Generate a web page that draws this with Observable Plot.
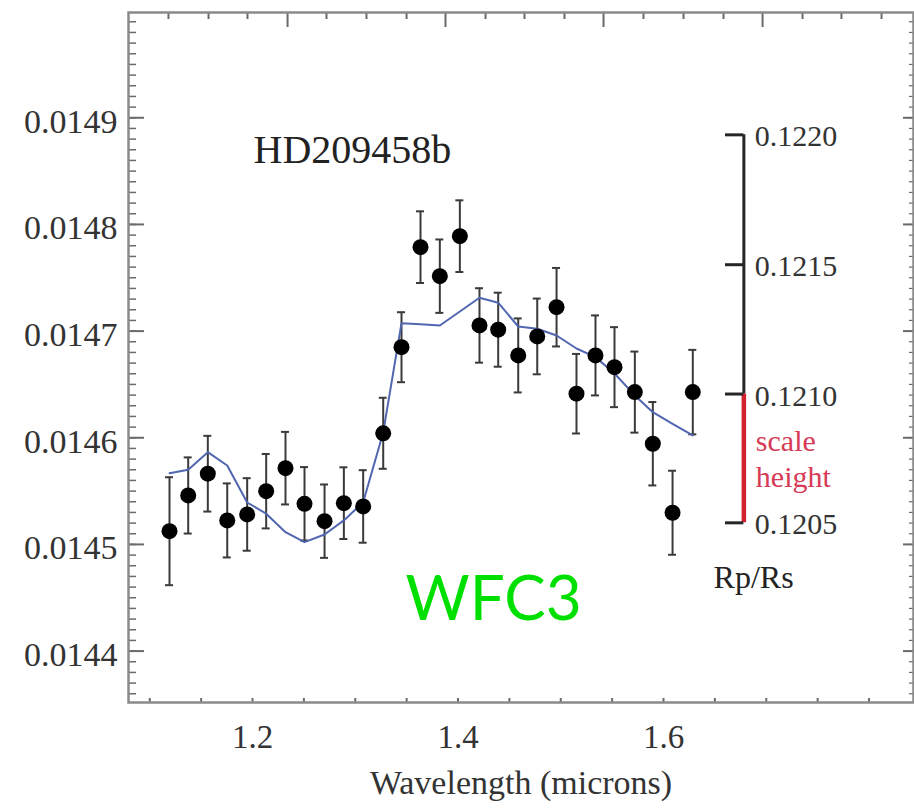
<!DOCTYPE html>
<html>
<head>
<meta charset="utf-8">
<script src="https://cdn.jsdelivr.net/npm/d3@7"></script>
<script src="https://cdn.jsdelivr.net/npm/@observablehq/plot@0.6"></script>
<style>
  html, body { margin: 0; padding: 0; background: #ffffff; }
  #chart svg { display: block; }
</style>
</head>
<body>
<div id="chart"></div>
<script>
// ---- data ----
const wavelength = [1.1192, 1.1374, 1.1565, 1.1754, 1.1948, 1.2133, 1.2321, 1.2506, 1.2701, 1.2889,
                    1.3077, 1.3272, 1.3450, 1.3635, 1.3823, 1.4018, 1.4209, 1.4391, 1.4586, 1.4771,
                    1.4959, 1.5153, 1.5338, 1.5523, 1.5721, 1.5896, 1.6088, 1.6285];
const depth = [0.0145124, 0.0145459, 0.0145663, 0.0145225, 0.0145281, 0.0145499, 0.0145715, 0.0145381, 0.0145218, 0.0145387,
               0.0145356, 0.0146042, 0.0146849, 0.0147787, 0.0147515, 0.0147890, 0.0147053, 0.0147013, 0.0146772, 0.0146950,
               0.0147224, 0.0146413, 0.0146772, 0.0146662, 0.0146428, 0.0145944, 0.0145297, 0.0146428];
const depthErr = [0.0000506, 0.0000357, 0.0000355, 0.0000347, 0.0000340, 0.0000349, 0.0000340, 0.0000344, 0.0000344, 0.0000336,
                  0.0000340, 0.0000333, 0.0000328, 0.0000336, 0.0000344, 0.0000336, 0.0000349, 0.0000347, 0.0000347, 0.0000355,
                  0.0000368, 0.0000373, 0.0000375, 0.0000375, 0.0000380, 0.0000391, 0.0000394, 0.0000396];
const model = [0.0145668, 0.0145700, 0.0145865, 0.0145740, 0.0145393, 0.0145288, 0.0145115, 0.0145021, 0.0145093, 0.0145225,
               0.0145396, 0.0146050, 0.0147074, 0.0147064, 0.0147053, 0.0147184, 0.0147313, 0.0147266, 0.0147043, 0.0147022,
               0.0146959, 0.0146837, 0.0146756, 0.0146603, 0.0146397, 0.0146240, 0.0146131, 0.0146022];

const yTickValues = [0.0144, 0.0145, 0.0146, 0.0147, 0.0148, 0.0149];
const xTickValues = [1.2, 1.4, 1.6];
const topMajorTicks = [1.2341, 1.3878, 1.5416, 1.6964];
const topMinorTicks = [1.1182, 1.1572, 1.1951, 1.2720, 1.3109, 1.3499, 1.4268, 1.4647, 1.5036,
                       1.5805, 1.6195, 1.6584, 1.7353, 1.7732, 1.8122];
const rpValues = [0.1205, 0.1210, 0.1215, 0.1220];
const rpLabels = ["0.1205", "0.1210", "0.1215", "0.1220"];

const titleText = ["HD209458b"];
const instrumentText = ["WFC3"];
const scaleWord = ["scale"];
const heightWord = ["height"];
const rpAxisText = ["Rp/Rs"];
const xLabelText = ["Wavelength (microns)"];

// ---- layout ----
const W = 914, H = 808;
const mTop = 12, mRight = 1, mBottom = 106, mLeft = 128;
const plotW = W - mLeft - mRight;
const plotH = H - mTop - mBottom;
const xDomain = [1.0793, 1.8433];
const yDomain = [0.0143518, 0.0149987];

// annotation anchors (data units)
const titlePos = {x: 1.201, y: 0.0148693};
const instrumentPos = {x: 1.3489, y: 0.0144475};
const barX = 1.6782, barTickX = 1.6603;
const rpTextPos = {x: 1.6487, y: 0.0144690};

const sq = r => r * r;
const barMid = (sq(rpValues[0]) + sq(rpValues[1])) / 2;
const points = wavelength.map((w, i) => ({w, d: depth[i], e: depthErr[i], m: model[i]}));
const yMinor = d3.range(1436, 1500).map(k => k / 100000);
const bottomTicks = d3.range(22, 37).map(k => k / 20);

const frameGray = "#8a8a8a";
const tickGray = "#6a6a6a";
const textGray = "#333333";
const red = "#d2202e";
const pinkRed = "#d63a55";

const chart = Plot.plot({
  width: W, height: H,
  marginTop: mTop, marginRight: mRight, marginBottom: mBottom, marginLeft: mLeft,
  x: {domain: xDomain},
  y: {domain: yDomain},
  style: {fontFamily: "'Liberation Serif', 'DejaVu Serif', serif", background: "#ffffff", color: "#222"},
  marks: [
    // axis tick marks (inward)
    Plot.tickY(yMinor, {y: d => d, insetRight: plotW - 8, stroke: tickGray, strokeWidth: 1.5}),
    Plot.tickY(yTickValues, {y: d => d, insetRight: plotW - 16, stroke: tickGray, strokeWidth: 2}),
    Plot.tickY(yMinor, {y: d => d, insetLeft: plotW - 4, stroke: tickGray, strokeWidth: 1.2}),
    Plot.tickY(yTickValues, {y: d => d, insetLeft: plotW - 10, stroke: tickGray, strokeWidth: 2}),
    Plot.tickX(topMinorTicks, {x: d => d, insetBottom: plotH - 7, stroke: tickGray, strokeWidth: 2}),
    Plot.tickX(topMajorTicks, {x: d => d, insetBottom: plotH - 15, stroke: tickGray, strokeWidth: 2}),
    Plot.tickX(bottomTicks, {x: d => d, insetTop: plotH - 4, stroke: tickGray, strokeWidth: 2}),
    Plot.frame({stroke: frameGray, strokeWidth: 2.5}),
    // tick labels
    Plot.axisY(yTickValues, {tickSize: 0, tickPadding: 11, tickFormat: d3.format(".4f"),
      fontSize: 34, fill: textGray, dy: 4, label: null}),
    Plot.axisX(xTickValues, {tickSize: 0, tickPadding: 22, tickFormat: d3.format(".1f"),
      fontSize: 33, fill: textGray, label: null}),
    Plot.text(xLabelText, {frameAnchor: "bottom", dy: 91, fontSize: 34, fill: textGray}),
    // data
    Plot.ruleX(points, {x: "w", y1: d => d.d - d.e, y2: d => d.d + d.e, stroke: "#3a3a3a", strokeWidth: 2}),
    Plot.ruleY(points, {y: d => d.d + d.e, x1: "w", x2: "w", insetLeft: -4, insetRight: -4, stroke: "#3a3a3a", strokeWidth: 2}),
    Plot.ruleY(points, {y: d => d.d - d.e, x1: "w", x2: "w", insetLeft: -4, insetRight: -4, stroke: "#3a3a3a", strokeWidth: 2}),
    Plot.line(points, {x: "w", y: "m", stroke: "#5166b0", strokeWidth: 2}),
    Plot.dot(points, {x: "w", y: "d", r: 8, fill: "#000000", stroke: null}),
    // Rp/Rs scale bar
    Plot.ruleX([barX], {x: d => d, y1: sq(rpValues[1]), y2: sq(rpValues[3]), stroke: "#262626", strokeWidth: 3}),
    Plot.ruleX([barX], {x: d => d, y1: sq(rpValues[0]), y2: sq(rpValues[1]), stroke: red, strokeWidth: 4.5}),
    Plot.ruleY(rpValues, {y: sq, x1: barTickX, x2: barX, stroke: "#262626", strokeWidth: 3}),
    Plot.text(rpValues, {x: barX, y: sq, text: (r, i) => rpLabels[i], dx: 11, dy: 2,
      textAnchor: "start", fontSize: 30, fill: textGray}),
    Plot.text(scaleWord, {x: barX, y: barMid, dx: 12, dy: -17,
      textAnchor: "start", fontSize: 30, fill: pinkRed}),
    Plot.text(heightWord, {x: barX, y: barMid, dx: 12, dy: 19,
      textAnchor: "start", fontSize: 30, fill: pinkRed}),
    Plot.text(rpAxisText, {x: rpTextPos.x, y: rpTextPos.y, textAnchor: "start", fontSize: 32, fill: "#222"}),
    // annotations
    Plot.text(titleText, {x: titlePos.x, y: titlePos.y, textAnchor: "start", fontSize: 40, fill: "#222"}),
    Plot.text(instrumentText, {x: instrumentPos.x, y: instrumentPos.y, textAnchor: "start", fontSize: 62,
      fontFamily: "Lato, 'Open Sans', sans-serif", fill: "#00e000"})
  ]
});
document.getElementById("chart").appendChild(chart);
</script>
</body>
</html>
